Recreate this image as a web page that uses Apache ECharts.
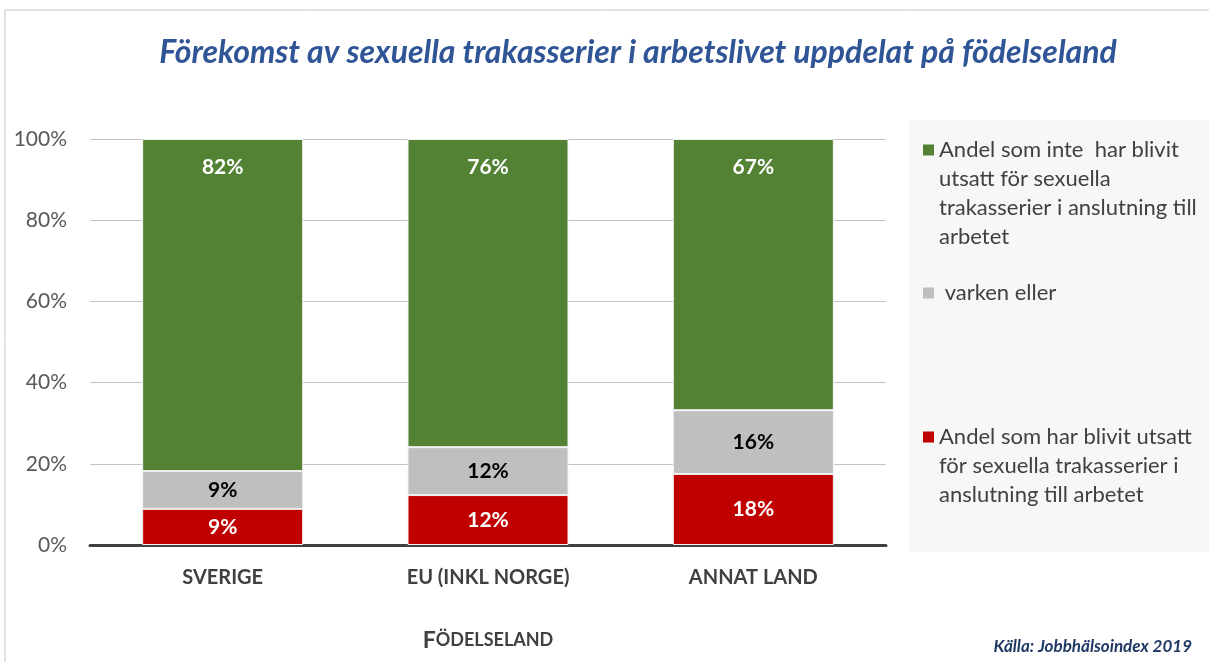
<!DOCTYPE html>
<html>
<head>
<meta charset="utf-8">
<title>Förekomst av sexuella trakasserier</title>
<script src="https://cdn.jsdelivr.net/npm/echarts@6/dist/echarts.min.js"></script>
<style>
	html, body { margin: 0; padding: 0; background: #fff; }
	#chart { width: 1209px; height: 662px; }
</style>
</head>
<body>
<div id="chart"></div>
<script>
	var categories = ['SVERIGE', 'EU (INKL NORGE)', 'ANNAT LAND'];
	var harUtsatts = [8.9, 12.3, 17.5];
	var varkenEller = [9.3, 11.8, 15.7];
	var inteUtsatts = [81.8, 75.9, 66.8];
	var yTicks = [0, 20, 40, 60, 80, 100];

	var nameHar = 'Andel som har blivit utsatt\nför sexuella trakasserier i\nanslutning till arbetet';
	var nameVarken = ' varken eller';
	var nameInte = 'Andel som inte  har blivit\nutsatt för sexuella\ntrakasserier i anslutning till\narbetet';

	var font = 'Lato, "Open Sans", sans-serif';
	var lineH = 29;
	var sq = 11;

	function pct(p) {
		return Math.round(p.value) + '%';
	}

	// legend square sits on the first text line: tall icon box, square drawn at its top
	function legendFor(name, iconCenter) {
		var lines = name.split('\n').length;
		var h = sq + (lines - 1) * lineH;
		return {
			data: [name],
			orient: 'vertical',
			left: 923,
			top: iconCenter - lineH / 2,
			padding: 0,
			itemWidth: sq,
			itemHeight: h,
			icon: 'path://M0,0L' + sq + ',0L' + sq + ',' + sq + 'L0,' + sq + 'Z M0,' + h + 'L0.01,' + h,
			selectedMode: false,
			itemStyle: { borderWidth: 0 },
			textStyle: {
				fontFamily: font,
				fontSize: 22,
				color: '#404040',
				lineHeight: lineH
			}
		};
	}

	var chart = echarts.init(document.getElementById('chart'));
	var option = {
		animation: false,
		backgroundColor: '#fff',
		title: {
			text: 'Förekomst av sexuella trakasserier i arbetslivet uppdelat på födelseland',
			left: 633,
			textAlign: 'center',
			top: 32,
			textStyle: {
				fontFamily: font,
				fontSize: 32,
				fontWeight: 'bold',
				fontStyle: 'italic',
				color: '#2F5597'
			}
		},
		graphic: [{
			type: 'rect',
			z: -10,
			shape: { x: 5, y: 10, width: 1210, height: 660 },
			style: { fill: 'none', stroke: '#c8c8c8', lineWidth: 1 }
		}, {
			type: 'rect',
			z: -9,
			shape: { x: 909, y: 120, width: 300, height: 432 },
			style: { fill: '#f7f7f7' }
		}, {
			type: 'text',
			right: 17,
			top: 638,
			style: {
				text: 'Källa: Jobbhälsoindex 2019',
				fontFamily: font,
				fontSize: 17,
				fontWeight: 'bold',
				fontStyle: 'italic',
				fill: '#1F3864'
			}
		}],
		legend: [
			legendFor(nameInte, 150),
			legendFor(nameVarken, 293),
			legendFor(nameHar, 437)
		],
		grid: {
			left: 90,
			right: 323,
			top: 139,
			bottom: 117
		},
		xAxis: {
			type: 'category',
			data: categories,
			axisTick: { show: false },
			axisLine: { lineStyle: { color: '#404040', width: 3 } },
			axisLabel: {
				margin: 23,
				fontFamily: font,
				fontSize: 20,
				fontWeight: 'bold',
				color: '#404040'
			},
			name: '{a|F}{b|ÖDELSELAND}',
			nameLocation: 'middle',
			nameGap: 84,
			nameTextStyle: {
				rich: {
					a: { fontFamily: font, fontSize: 23, fontWeight: 'bold', color: '#404040' },
					b: { fontFamily: font, fontSize: 18, fontWeight: 'bold', color: '#404040' }
				}
			}
		},
		yAxis: {
			type: 'value',
			min: yTicks[0],
			max: yTicks[yTicks.length - 1],
			interval: yTicks[1] - yTicks[0],
			axisLine: { show: false },
			axisTick: { show: false },
			axisLabel: {
				formatter: '{value}%',
				margin: 23,
				fontFamily: font,
				fontSize: 21,
				color: '#595959'
			},
			splitLine: { lineStyle: { color: '#c4c4c4', width: 1 } }
		},
		series: [{
			name: nameHar,
			type: 'bar',
			stack: 'total',
			barWidth: 161,
			data: harUtsatts,
			itemStyle: { color: '#C00000', borderColor: '#f2f2f2', borderWidth: 1 },
			label: {
				show: true,
				position: 'inside',
				formatter: pct,
				fontFamily: font,
				fontSize: 21,
				fontWeight: 'bold',
				color: '#fff'
			}
		}, {
			name: nameVarken,
			type: 'bar',
			stack: 'total',
			barWidth: 161,
			data: varkenEller,
			itemStyle: { color: '#BFBFBF', borderColor: '#f2f2f2', borderWidth: 1 },
			label: {
				show: true,
				position: 'inside',
				formatter: pct,
				fontFamily: font,
				fontSize: 21,
				fontWeight: 'bold',
				color: '#000'
			}
		}, {
			name: nameInte,
			type: 'bar',
			stack: 'total',
			barWidth: 161,
			data: inteUtsatts,
			itemStyle: { color: '#548235', borderColor: '#f2f2f2', borderWidth: 1 },
			label: {
				show: true,
				position: 'insideTop',
				distance: 18,
				formatter: pct,
				fontFamily: font,
				fontSize: 21,
				fontWeight: 'bold',
				color: '#fff'
			}
		}]
	};
	chart.setOption(option);
</script>
</body>
</html>
